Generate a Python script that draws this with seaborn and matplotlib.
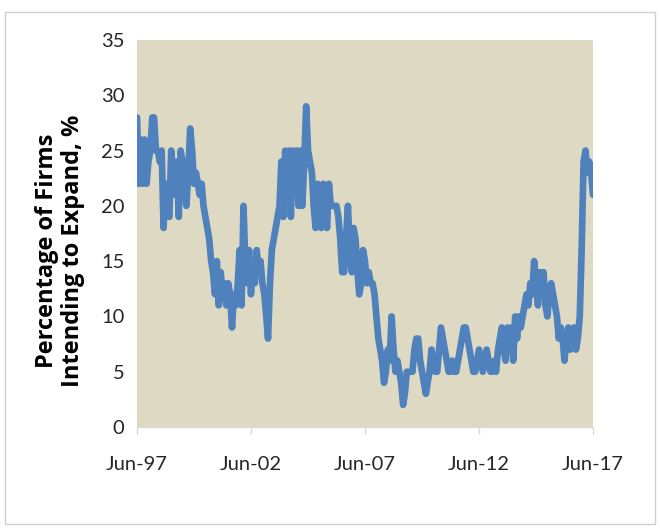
import matplotlib
matplotlib.use("Agg")
import matplotlib.pyplot as plt
import matplotlib.dates as mdates
from matplotlib.patches import Rectangle
import pandas as pd
import seaborn as sns

# Monthly share of firms saying it is a good time to expand, Jun-1997 .. Jun-2017
start_month = "1997-06-01"
end_month = "2017-06-01"
pct_expand = [
    28, 22, 26, 22, 26, 22, 24, 25, 28, 28, 25, 25,   # Jun-97 ..
    24, 25, 18, 22, 20, 19, 25, 23, 21, 24, 19, 25,   # Jun-98 ..
    24, 22, 20, 23, 27, 25, 22, 23, 22, 21, 22, 20,   # Jun-99 ..
    19, 18, 17, 15, 14, 12, 15, 11, 14, 12, 13, 11,   # Jun-00 ..
    13, 12, 9, 12, 11, 13, 16, 11, 20, 15, 13, 16,    # Jun-01 ..
    12, 15, 13, 16, 14, 15, 13, 12, 10, 8, 13, 16,    # Jun-02 ..
    17, 18, 19, 20, 24, 19, 25, 21, 25, 19, 25, 22,   # Jun-03 ..
    25, 20, 25, 20, 24, 29, 25, 24, 23, 20, 18, 22,   # Jun-04 ..
    20, 18, 22, 21, 18, 22, 20, 20, 20, 20, 19, 17,   # Jun-05 ..
    14, 14, 17, 20, 16, 14, 18, 17, 14, 12, 13, 16,   # Jun-06 ..
    15, 13, 14, 13, 13, 12, 10, 8, 7, 6, 4, 5,        # Jun-07 ..
    7, 6, 10, 7, 5, 6, 5, 4, 2, 3, 5, 5,              # Jun-08 ..
    5, 5, 7, 8, 8, 6, 5, 4, 3, 4, 5, 7,               # Jun-09 ..
    6, 5, 5, 7, 9, 8, 7, 6, 5, 5, 6, 5,               # Jun-10 ..
    5, 6, 7, 8, 9, 9, 8, 7, 6, 5, 5, 6,               # Jun-11 ..
    7, 6, 5, 6, 7, 6, 5, 5, 6, 5, 7, 8,               # Jun-12 ..
    9, 7, 6, 9, 7, 9, 6, 10, 8, 10, 9, 10,            # Jun-13 ..
    11, 12, 11, 13, 12, 15, 13, 11, 14, 12, 14, 11,   # Jun-14 ..
    10, 12, 13, 12, 11, 10, 8, 9, 8, 6, 8, 9,         # Jun-15 ..
    7, 8, 9, 7, 8, 10, 16, 24, 25, 23, 24, 23,        # Jun-16 ..
    21,                                               # Jun-17
]
tick_dates = ["1997-06-01", "2002-06-01", "2007-06-01", "2012-06-01", "2017-06-01"]
y_ticks = [0, 5, 10, 15, 20, 25, 30, 35]
y_label = "Percentage of Firms\nIntending to Expand, %"

months = pd.date_range(start_month, end_month, freq="MS")
df = pd.DataFrame({"month": months, "pct": pct_expand})

sns.set_theme(style="white")
plt.rcParams["font.family"] = ["Lato", "DejaVu Sans"]

fig = plt.figure(figsize=(6.6, 5.32), dpi=100)
fig.patch.set_facecolor("white")
ax = fig.add_axes([137 / 660, 1 - 427 / 532, (593 - 137) / 660, (427 - 40) / 532])
ax.set_facecolor("#DDD9C3")

sns.lineplot(data=df, x="month", y="pct", ax=ax, color="#4F81BD",
             linewidth=4.8, solid_joinstyle="round")

ax.set_xlim(months[0], months[-1])
ax.set_ylim(0, 35)
ax.set_yticks(y_ticks)
ax.set_yticklabels([str(v) for v in y_ticks])
tick_pos = pd.to_datetime(tick_dates)
ax.set_xticks(tick_pos)
ax.xaxis.set_major_formatter(mdates.DateFormatter("%b-%y"))

for side in ("top", "right", "left"):
    ax.spines[side].set_visible(False)
ax.spines["bottom"].set_color("#D9D9D9")
ax.spines["bottom"].set_linewidth(1.0)

ax.tick_params(axis="x", which="major", length=5, width=1, color="#D9D9D9",
               direction="out", pad=16, labelsize=14.5, labelcolor="#262626",
               bottom=True)
ax.tick_params(axis="y", length=0, pad=9, labelsize=14.5, labelcolor="#262626")

ax.set_xlabel("")
ax.set_ylabel(y_label, fontsize=17, fontweight="bold", color="#000000",
              family=["Open Sans", "DejaVu Sans"], linespacing=1.1)
ax.yaxis.set_label_coords(-0.115, 0.455)

fig.patches.append(Rectangle((5 / 660, 8 / 532), 650 / 660, (532 - 20) / 532,
                             transform=fig.transFigure, fill=False,
                             edgecolor="#D0D0D0", linewidth=1.0))

fig.savefig("out.png", dpi=100)
